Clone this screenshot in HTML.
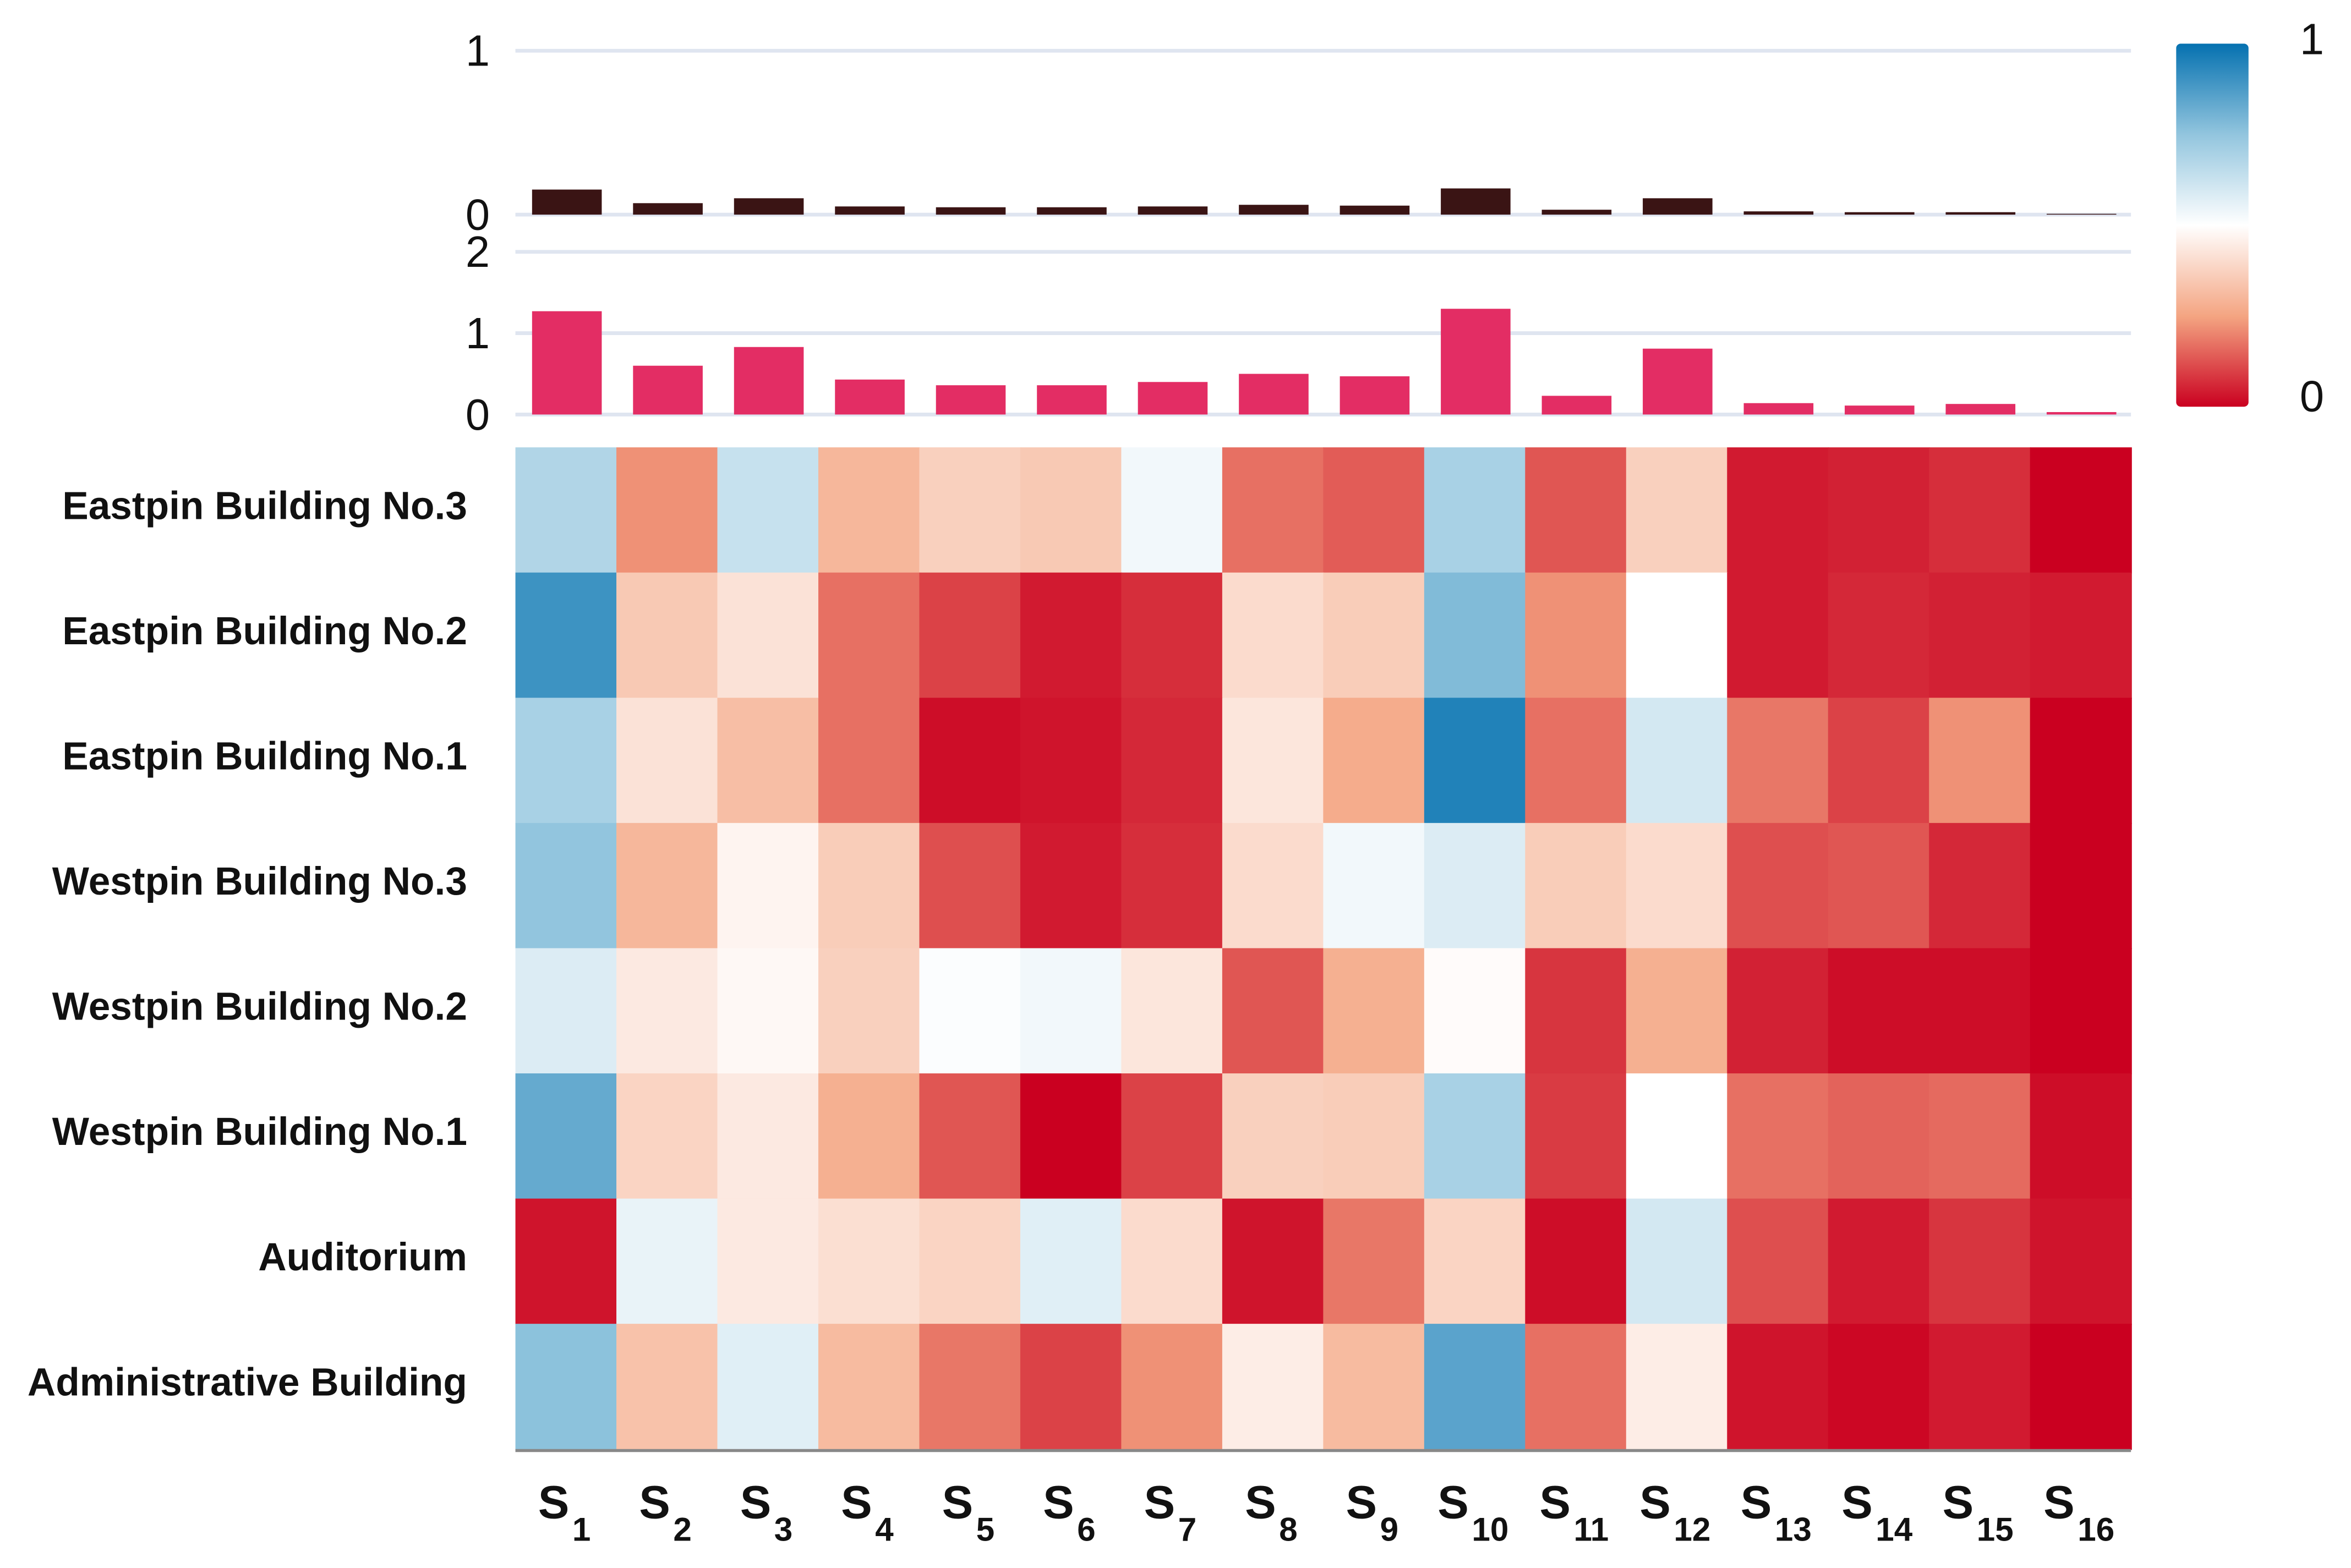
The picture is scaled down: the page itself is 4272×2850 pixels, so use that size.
<!DOCTYPE html>
<html><head><meta charset="utf-8"><style>
html,body{margin:0;padding:0;background:#fff;}
svg{display:block;}
text{font-family:"Liberation Sans","DejaVu Sans",sans-serif;}
</style></head><body>
<svg id="chart" width="4272" height="2850" viewBox="0 0 1560 1041" preserveAspectRatio="none" xmlns="http://www.w3.org/2000/svg">
<defs>
<linearGradient id="cbar" x1="0" y1="1" x2="0" y2="0">
<stop offset="0" stop-color="#ca0020"/><stop offset="0.25" stop-color="#f4a582"/><stop offset="0.5" stop-color="#ffffff"/><stop offset="0.75" stop-color="#92c5de"/><stop offset="1" stop-color="#0571b0"/>
</linearGradient>
</defs>
<g id="gTop"></g>
<g id="gMid"></g>
<g id="gHeat"></g>
<g id="gLabels"></g>
<g>
<rect x="1444" y="29" width="48" height="241" rx="3" fill="url(#cbar)"/>
<text x="1526" y="36" font-size="29" fill="#111">1</text>
<text x="1526" y="273" font-size="29" fill="#111">0</text>
</g>
</svg>
<script>
const categories=["S1","S2","S3","S4","S5","S6","S7","S8","S9","S10","S11","S12","S13","S14","S15","S16"];
const topValues=[0.153,0.07,0.1,0.05,0.045,0.045,0.05,0.06,0.055,0.16,0.03,0.1,0.02,0.015,0.015,0.005];
const midValues=[1.27,0.6,0.83,0.43,0.36,0.36,0.4,0.5,0.47,1.3,0.23,0.81,0.14,0.11,0.13,0.03];
const topTicks=[0,1];
const midTicks=[0,1,2];
const rowLabels=["Eastpin Building No.3","Eastpin Building No.2","Eastpin Building No.1","Westpin Building No.3","Westpin Building No.2","Westpin Building No.1","Auditorium","Administrative Building"];
const heatRow1=[0.68,0.22,0.63,0.3,0.37,0.35,0.53,0.17,0.14,0.7,0.13,0.37,0.04,0.05,0.07,0.0];
const heatRow2=[0.9,0.35,0.42,0.17,0.1,0.04,0.07,0.4,0.36,0.78,0.22,0.5,0.04,0.06,0.05,0.04];
const heatRow3=[0.7,0.42,0.32,0.17,0.02,0.03,0.06,0.43,0.27,0.95,0.17,0.6,0.18,0.1,0.22,0.0];
const heatRow4=[0.75,0.3,0.47,0.36,0.12,0.04,0.07,0.4,0.53,0.58,0.36,0.4,0.12,0.13,0.06,0.0];
const heatRow5=[0.58,0.44,0.48,0.37,0.51,0.53,0.43,0.13,0.28,0.49,0.08,0.28,0.05,0.02,0.02,0.0];
const heatRow6=[0.83,0.38,0.44,0.28,0.13,0.0,0.1,0.37,0.36,0.7,0.09,0.5,0.17,0.15,0.16,0.02];
const heatRow7=[0.03,0.55,0.44,0.41,0.38,0.57,0.4,0.03,0.18,0.38,0.02,0.6,0.12,0.04,0.08,0.03];
const heatRow8=[0.76,0.33,0.57,0.31,0.18,0.1,0.22,0.45,0.31,0.85,0.17,0.45,0.03,0.01,0.04,0.0];
const heatRows=[heatRow1,heatRow2,heatRow3,heatRow4,heatRow5,heatRow6,heatRow7,heatRow8];

const NS="http://www.w3.org/2000/svg";
const X0=342,X1=1414,HY0=297,HY1=962;
const colW=(X1-X0)/categories.length, rowH=(HY1-HY0)/rowLabels.length;
const xAt=i=>X0+i*colW;
const yTop=v=>142.5-v*108.8;
const yMid=v=>275.2-v*54;
const yRow=j=>HY0+j*rowH;
function mk(tag,attrs,parent){const e=document.createElementNS(NS,tag);for(const k in attrs)e.setAttribute(k,attrs[k]);parent.appendChild(e);return e;}
const stops=[[0,[202,0,32]],[0.25,[244,165,130]],[0.5,[255,255,255]],[0.75,[146,197,222]],[1,[5,113,176]]];
function color(v){v=Math.max(0,Math.min(1,v));for(let i=0;i<stops.length-1;i++){const[a,ca]=stops[i],[b,cb]=stops[i+1];if(v<=b){const t=(v-a)/(b-a);return "rgb("+ca.map((c,k)=>Math.round(c+(cb[k]-c)*t)).join(",")+")";}}return "rgb(5,113,176)";}

const gTop=document.getElementById('gTop'),gMid=document.getElementById('gMid'),gHeat=document.getElementById('gHeat'),gLabels=document.getElementById('gLabels');
topTicks.forEach(t=>{
 const l=mk('line',{x1:X0,x2:X1,y1:yTop(t),y2:yTop(t),stroke:'#dfe5f0','stroke-width':2.5},gTop);
 
 
 const tx=mk('text',{x:325,y:yTop(t)+10,'font-size':29,'text-anchor':'end',fill:'#111'},gTop);tx.textContent=t;
 
 
});
midTicks.forEach(t=>{
 const l=mk('line',{x1:X0,x2:X1,y1:yMid(t),y2:yMid(t),stroke:'#dfe5f0','stroke-width':2.5},gMid);
 
 
 const tx=mk('text',{x:325,y:yMid(t)+10,'font-size':29,'text-anchor':'end',fill:'#111'},gMid);tx.textContent=t;
 
 
});
categories.forEach((c,i)=>{
 const bx=xAt(i)+colW*0.165,bw=colW*0.69;
 const r1=mk('rect',{x:bx,y:yTop(topValues[i]),width:bw,height:yTop(0)-yTop(topValues[i]),fill:'#3a1414'},gTop);
 
 
 const r2=mk('rect',{x:bx,y:yMid(midValues[i]),width:bw,height:yMid(0)-yMid(midValues[i]),fill:'#e32d64'},gMid);
 
 
 const t=mk('text',{x:xAt(i)+colW/2-1,y:1008,'font-size':31,'font-weight':'bold','text-anchor':'middle',fill:'#111'},gLabels);
 
 
 const s1=mk('tspan',{},t);s1.textContent='S';
 const s2=mk('tspan',{dy:15,'font-size':22,dx:2},t);s2.textContent=c.slice(1);
});
heatRows.forEach((row,j)=>{
 row.forEach((v,i)=>{
  const r=mk('rect',{x:xAt(i),y:yRow(j),width:colW+0.6,height:rowH+0.6,fill:color(v)},gHeat);
  
  
 });
 const t=mk('text',{x:310,y:yRow(j)+rowH/2+6,'font-size':26,'font-weight':'bold','text-anchor':'end',fill:'#111'},gLabels);
 t.textContent=rowLabels[j];
 
 
});
const ax=mk('line',{x1:X0,x2:X1,y1:HY1+1,y2:HY1+1,stroke:'#888','stroke-width':2},gHeat);


</script>
</body></html>
